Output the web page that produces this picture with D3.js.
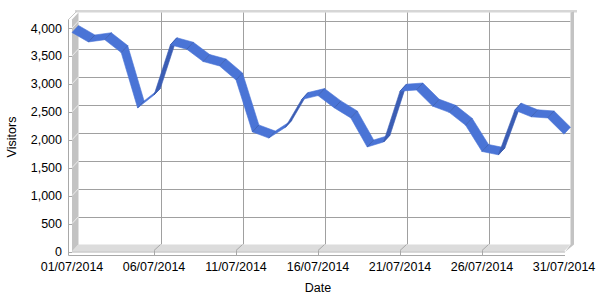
<!DOCTYPE html>
<html>
<head>
<meta charset="utf-8">
<script src="https://cdn.jsdelivr.net/npm/d3@7"></script>
<style>
  body { margin: 0; background: #fff; }
  svg { display: block; font-family: "Liberation Sans", Arial, sans-serif; }
</style>
</head>
<body>
<div id="chart"></div>
<script>
// daily visitors, 1 to 31 July 2014
const visitors = [3920, 3750, 3790, 3560, 2570, 2800, 3700, 3620, 3400, 3320,
                  3070, 2140, 2030, 2220, 2720, 2790, 2570, 2390, 1870, 1960,
                  2870, 2890, 2600, 2490, 2260, 1790, 1730, 2530, 2410, 2390, 2100];
const xTickLabels = ["01/07/2014", "06/07/2014", "11/07/2014", "16/07/2014",
                     "21/07/2014", "26/07/2014", "31/07/2014"];
const yTickValues = [0, 500, 1000, 1500, 2000, 2500, 3000, 3500, 4000];

const width = 600, height = 300;
const dx = 6.5, dy = -7;          // depth offset front -> back
const parse = d3.utcParse("%d/%m/%Y");
const fmt = d3.utcFormat("%d/%m/%Y");
const firstDay = parse(xTickLabels[0]);
const dates = visitors.map((v, i) => d3.utcDay.offset(firstDay, i));
const xTicks = xTickLabels.map(parse);

const x = d3.scaleUtc()
  .domain([dates[0], dates[dates.length - 1]])
  .range([72, 564]);
const y = d3.scaleLinear()
  .domain([0, 4000])
  .range([251.5, 28]);
const yTop = 19.5;  // top of the plot box (front)

const svg = d3.select("#chart").append("svg")
  .attr("width", width)
  .attr("height", height);

const x0 = x.range()[0], x1 = x.range()[1], y0 = y(0);
const pts = a => a.map(p => p.join(",")).join(" ");

// back wall
svg.append("rect")
  .attr("x", x0 + dx).attr("y", yTop + dy)
  .attr("width", x1 - x0).attr("height", y0 - yTop)
  .attr("fill", "#fff");

// top edge
svg.append("rect")
  .attr("x", x0 + 3).attr("y", yTop + dy - 2.5)
  .attr("width", x1 - x0 + dx + 3.5).attr("height", 2.5)
  .attr("fill", "#d6d6d6");
svg.append("line")
  .attr("x1", 68.5).attr("y1", yTop)
  .attr("x2", 68.5 + dx + 2).attr("y2", yTop + dy - 1.5)
  .attr("stroke", "#c8c8c8");

// horizontal gridlines on back wall
svg.append("g").selectAll("line")
  .data(yTickValues.filter(d => d > 0))
  .join("line")
  .attr("x1", x0 + dx).attr("x2", x1 + dx)
  .attr("y1", d => Math.round(y(d) + dy) + 0.5)
  .attr("y2", d => Math.round(y(d) + dy) + 0.5)
  .attr("stroke", "#a0a0a0");

// vertical gridlines on back wall
svg.append("g").selectAll("line")
  .data(xTicks.slice(1, -1))
  .join("line")
  .attr("x1", d => Math.round(x(d) + dx) + 0.5)
  .attr("x2", d => Math.round(x(d) + dx) + 0.5)
  .attr("y1", yTop + dy).attr("y2", y0 + dy)
  .attr("stroke", "#a0a0a0");

// left wall
svg.append("polygon")
  .attr("points", pts([[x0, yTop], [x0 + dx, yTop + dy], [x0 + dx, y0 + dy], [x0, y0]]))
  .attr("fill", "#c3c3c3");

// right wall
svg.append("polygon")
  .attr("points", pts([[x1 + dx, yTop + dy], [x1 + dx + 3.5, yTop + dy - 1], [x1 + dx + 3.5, y0 + dy], [x1 + 1, y0 + 0.5], [x1 + dx, y0 + dy]]))
  .attr("fill", "#c3c3c3");

// floor
svg.append("polygon")
  .attr("points", pts([[x0, y0], [x1, y0], [x1 + dx, y0 + dy], [x0 + dx, y0 + dy]]))
  .attr("fill", "#dcdcdc");
svg.append("line")
  .attr("x1", x0).attr("x2", x1 + 1)
  .attr("y1", y0 + 0.5).attr("y2", y0 + 0.5)
  .attr("stroke", "#b4b4b4");

// y axis line and ticks
svg.append("line")
  .attr("x1", 68.5).attr("x2", 68.5)
  .attr("y1", yTop).attr("y2", y0 + 4)
  .attr("stroke", "#a8a8a8");
const yt = svg.append("g").selectAll("g")
  .data(yTickValues)
  .join("g");
yt.append("line")
  .attr("x1", 68.5).attr("x2", x0)
  .attr("y1", d => Math.round(y(d)) + 0.5).attr("y2", d => Math.round(y(d)) + 0.5)
  .attr("stroke", "#a8a8a8");
yt.filter(d => d > 0).append("line")
  .attr("x1", x0).attr("x2", x0 + dx)
  .attr("y1", d => y(d)).attr("y2", d => y(d) + dy)
  .attr("stroke", "#ececec");
yt.append("text")
  .attr("x", 62)
  .attr("y", d => y(d) + 4.5)
  .attr("text-anchor", "end")
  .attr("font-size", "12.5px")
  .attr("fill", "#000")
  .text(d => d3.format(",")(d));

// x axis line and ticks
svg.append("line")
  .attr("x1", 68.5).attr("x2", x1 + 1)
  .attr("y1", y0 + 4).attr("y2", y0 + 4)
  .attr("stroke", "#a8a8a8");
const xt = svg.append("g").selectAll("g")
  .data(xTicks)
  .join("g");
xt.filter((d, i) => i > 0 && i < xTicks.length - 1).append("line")
  .attr("x1", d => Math.round(x(d)) + 0.5).attr("x2", d => Math.round(x(d)) + 0.5)
  .attr("y1", y0 - 1).attr("y2", y0 + 4)
  .attr("stroke", "#a8a8a8");
xt.filter((d, i) => i > 0 && i < xTicks.length - 1).append("line")
  .attr("x1", d => x(d)).attr("x2", d => x(d) + dx)
  .attr("y1", y0 - 1).attr("y2", y0 + dy)
  .attr("stroke", "#a8a8a8");
xt.append("text")
  .attr("x", d => x(d))
  .attr("y", 271)
  .attr("text-anchor", "middle")
  .attr("font-size", "12.5px")
  .attr("fill", "#000")
  .text(d => fmt(d));

// ribbon
const front = visitors.map((v, i) => [x(dates[i]), y(v)]);
const ribbon = svg.append("g");
for (let i = 0; i < front.length - 1; i++) {
  const a = front[i], b = front[i + 1];
  const ex = b[0] - a[0], ey = b[1] - a[1];
  const cross = ex * dy - ey * dx;
  const col = cross < 0 ? "#4a74d6" : "#3b5db4";
  ribbon.append("polygon")
    .attr("points", pts([a, b, [b[0] + dx, b[1] + dy], [a[0] + dx, a[1] + dy]]))
    .attr("fill", col)
    .attr("stroke", col)
    .attr("stroke-width", 0.6)
    .attr("stroke-linejoin", "round");
}
ribbon.selectAll("line")
  .data(front.slice(1, -1))
  .join("line")
  .attr("x1", d => d[0]).attr("y1", d => d[1])
  .attr("x2", d => d[0] + dx).attr("y2", d => d[1] + dy)
  .attr("stroke", "#3a5aa8")
  .attr("stroke-width", 0.7);

// axis titles
svg.append("text")
  .attr("transform", "translate(15.5,137) rotate(-90)")
  .attr("text-anchor", "middle")
  .attr("font-size", "12.5px")
  .text("Visitors");
svg.append("text")
  .attr("x", 318)
  .attr("y", 292)
  .attr("text-anchor", "middle")
  .attr("font-size", "12.5px")
  .text("Date");
</script>
</body>
</html>
